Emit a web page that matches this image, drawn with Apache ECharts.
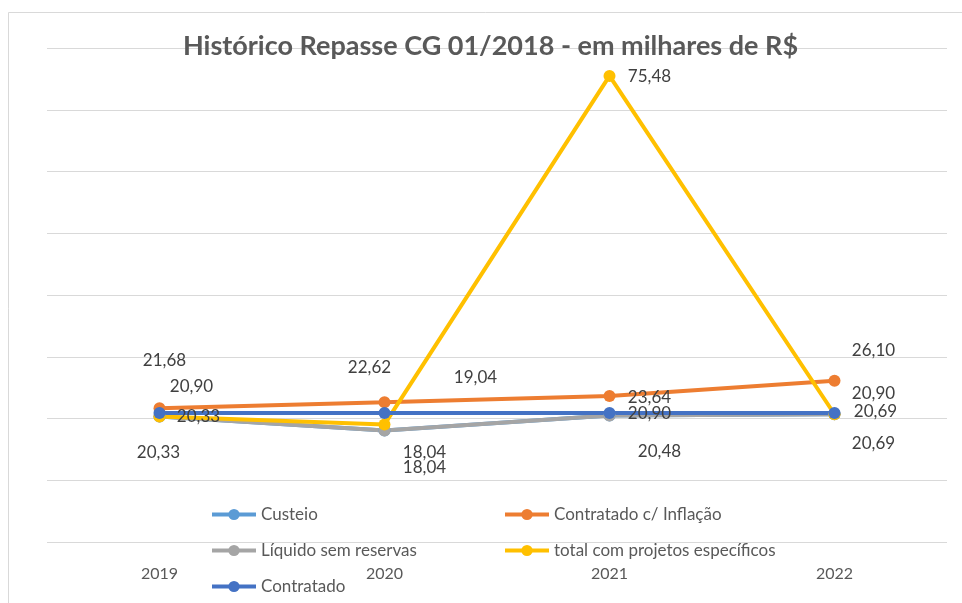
<!DOCTYPE html>
<html>
<head>
<meta charset="UTF-8">
<title>Histórico Repasse CG 01/2018</title>
<script src="https://cdn.jsdelivr.net/npm/echarts@6/dist/echarts.min.js"></script>
<style>
    html, body { margin: 0; padding: 0; background: #fff; }
    #chart { width: 962px; height: 603px; }
</style>
</head>
<body>
<div id="chart"></div>
<script>
    // dados (milhares de R$)
    var anos = ['2019', '2020', '2021', '2022'];
    var custeio = [20.33, 18.04, 20.48, 20.69];
    var contratadoInflacao = [21.68, 22.62, 23.64, 26.10];
    var liquidoSemReservas = [20.33, 18.04, 20.48, 20.69];
    var totalProjetos = [20.33, 19.04, 75.48, 20.69];
    var contratado = [20.90, 20.90, 20.90, 20.90];
    var eixoY = [0, 80, 10]; // min, max, intervalo

    // deslocamento dos rótulos em relação ao ponto (null = sem rótulo)
    var rotulos = {
        custeio: [[-1, 36], [40, 37], [50, 36], [39, 29]],
        inflacao: [[5, -48], [-15, -35], [40, 1], [39, -30]],
        liquido: [[39, 0], [40, 22], null, [41, -3]],
        total: [null, [91, -47], [40, 1], null],
        contratado: [[32, -26], null, [40, 1], [39, -19]]
    };

    var fonte = 'Lato, "Open Sans", sans-serif';

    function fmt(v) {
        return v.toFixed(2).replace('.', ',');
    }

    function pontos(valores, offs) {
        return valores.map(function (v, i) {
            var o = offs[i];
            if (!o) return { value: v };
            return {
                value: v,
                label: { show: true, position: 'inside', offset: o }
            };
        });
    }

    function serie(nome, valores, offs, cor) {
        return {
            name: nome,
            type: 'line',
            data: pontos(valores, offs),
            symbol: 'circle',
            symbolSize: 12,
            lineStyle: { color: cor, width: 4 },
            itemStyle: { color: cor },
            label: {
                show: false,
                color: '#404040',
                fontFamily: fonte,
                fontSize: 17,
                formatter: function (p) { return fmt(p.value); }
            },
            emphasis: { disabled: true },
            animation: false
        };
    }

    function legenda(nome, x, y) {
        return {
            data: [nome],
            left: x,
            top: y,
            itemWidth: 44,
            itemHeight: 14,
            lineStyle: { width: 4 },
            textStyle: { color: '#595959', fontFamily: fonte, fontSize: 17 },
            selectedMode: false
        };
    }

    var myChart = echarts.init(document.getElementById('chart'));

    var option = {
        backgroundColor: '#fff',
        title: {
            text: 'Histórico Repasse CG 01/2018 - em milhares de R$',
            left: 178,
            top: 28,
            textStyle: {
                color: '#595959',
                fontFamily: fonte,
                fontWeight: 'bold',
                fontSize: 27
            }
        },
        graphic: [{
            type: 'rect',
            silent: true,
            shape: { x: 8.5, y: 12.5, width: 1000, height: 700 },
            style: { fill: 'none', stroke: '#D9D9D9', lineWidth: 1 }
        }],
        legend: [
            legenda('Custeio', 205, 501),
            legenda('Contratado c/ Inflação', 498, 501),
            legenda('Líquido sem reservas', 205, 537),
            legenda('total com projetos específicos', 498, 537),
            legenda('Contratado', 205, 573)
        ],
        grid: { left: 47, right: 15, top: 48, bottom: 61 },
        xAxis: {
            type: 'category',
            data: anos,
            axisLine: { show: false },
            axisTick: { show: false },
            axisLabel: {
                color: '#595959',
                fontFamily: fonte,
                fontSize: 16,
                margin: 24
            }
        },
        yAxis: {
            type: 'value',
            min: eixoY[0],
            max: eixoY[1],
            interval: eixoY[2],
            axisLabel: { show: false },
            axisLine: { show: false },
            axisTick: { show: false },
            splitLine: { lineStyle: { color: '#D9D9D9', width: 1 } }
        },
        series: [
            serie('Custeio', custeio, rotulos.custeio, '#5B9BD5'),
            serie('Contratado c/ Inflação', contratadoInflacao, rotulos.inflacao, '#ED7D31'),
            serie('Líquido sem reservas', liquidoSemReservas, rotulos.liquido, '#A5A5A5'),
            serie('total com projetos específicos', totalProjetos, rotulos.total, '#FFC000'),
            serie('Contratado', contratado, rotulos.contratado, '#4472C4')
        ]
    };

    myChart.setOption(option);
</script>
</body>
</html>
